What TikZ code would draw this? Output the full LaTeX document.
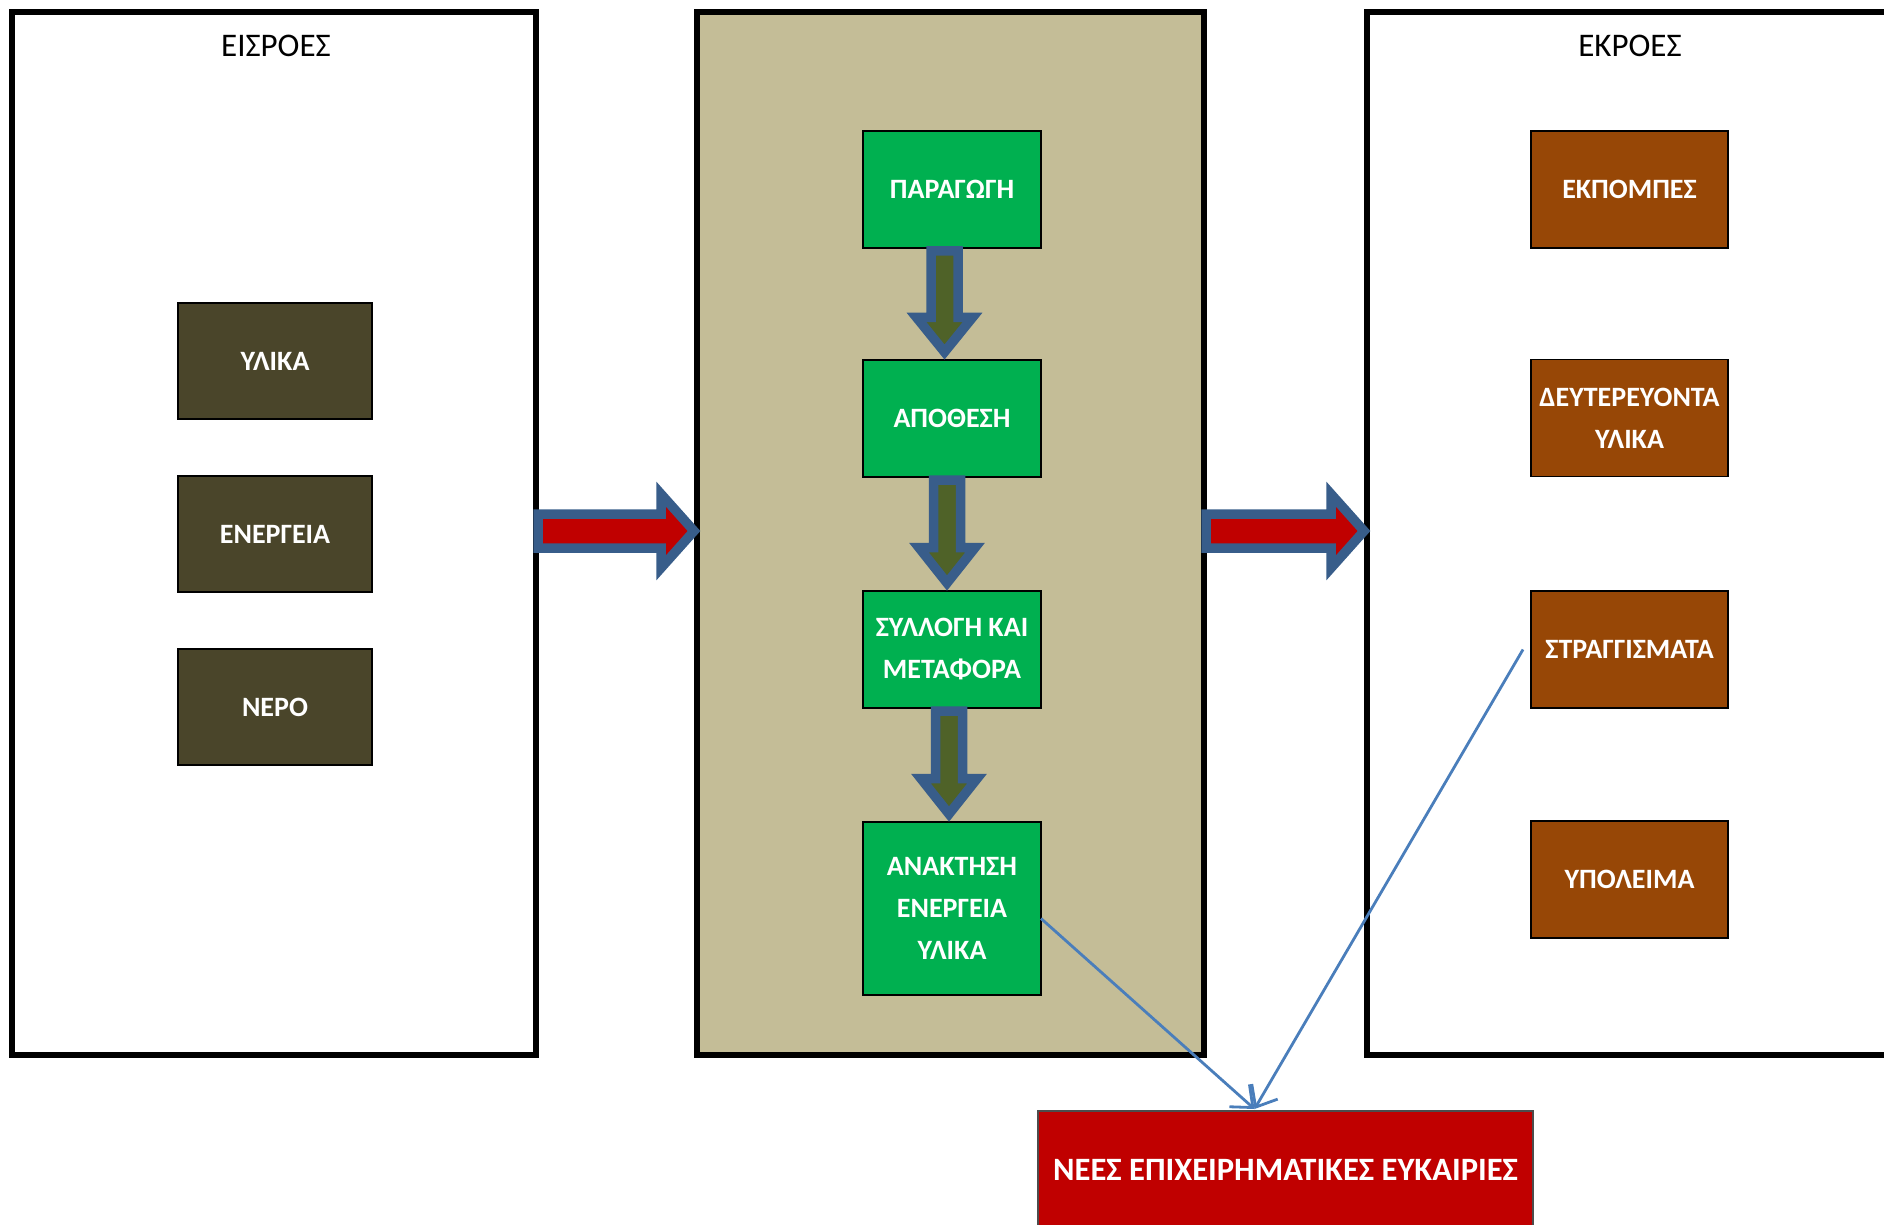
\documentclass[tikz,border=0pt]{standalone}
\usepackage{fontspec}
\setmainfont{Carlito}
\usetikzlibrary{calc,arrows.meta}

\definecolor{panelTan}{HTML}{C4BD97}
\definecolor{boxOlive}{HTML}{4A452A}
\definecolor{boxGreen}{HTML}{00B050}
\definecolor{boxBrown}{HTML}{974706}
\definecolor{boxRed}{HTML}{C00000}
\definecolor{arrowBlue}{HTML}{385D8A}
\definecolor{arrowOlive}{HTML}{4F6228}
\definecolor{lineBlue}{HTML}{4A7EBB}

% vertical block arrow between two stacked boxes (#3 = horizontal shift)
\newcommand{\blockdown}[3]{%
  \draw[downarrow]
    ($(#1.south)+(#3-13.5,3)$) -- ($(#1.south)+(#3+13.5,3)$)
    -- ($(#1.south)!0.62!(#2.north)+(#3+13.5,0)$)
    -- ($(#1.south)!0.62!(#2.north)+(#3+28,0)$)
    -- ($(#2.north)+(#3,-8)$)
    -- ($(#1.south)!0.62!(#2.north)+(#3-28,0)$)
    -- ($(#1.south)!0.62!(#2.north)+(#3-13.5,0)$) -- cycle;}

% horizontal block arrow from one panel to the next
\newcommand{\blockright}[2]{%
  \draw[rightarrow]
    ($(#1.east)+(2,-19.5)$) -- ($(#2.west)+(-36,-19.5)$)
    -- ($(#2.west)+(-36,-39.5)$)
    -- ($(#2.west)+(-3,-2.5)$)
    -- ($(#2.west)+(-36,34.5)$)
    -- ($(#2.west)+(-36,14.5)$)
    -- ($(#1.east)+(2,14.5)$) -- cycle;}

\begin{document}
\begin{tikzpicture}[x=0.5pt,y=-0.5pt,
  panel/.style={draw=black,line width=3pt,inner sep=0pt,outer sep=0pt,
    minimum height=521.5pt},
  title/.style={inner sep=0pt,font=\fontsize{16.5}{20}\selectfont},
  boxtext/.style={inner sep=0pt,outer sep=0pt,text=white,align=center,
    font=\fontsize{14}{21}\bfseries\selectfont},
  inbox/.style={boxtext,fill=boxOlive,draw=black,line width=1pt,
    minimum width=97pt,minimum height=58pt},
  procbox/.style={boxtext,fill=boxGreen,draw=black,line width=0.8pt,
    minimum width=89pt,minimum height=58.5pt},
  outbox/.style={boxtext,fill=boxBrown,draw=black,line width=0.8pt,
    minimum width=98.5pt,minimum height=58.5pt},
  newbox/.style={boxtext,fill=boxRed,draw=black!70,line width=0.6pt,
    minimum width=247.5pt,minimum height=59pt,
    font=\fontsize{16.3}{20}\bfseries\selectfont},
  downarrow/.style={draw=arrowBlue,fill=arrowOlive,line width=4.75pt,
    line join=miter},
  rightarrow/.style={draw=arrowBlue,fill=boxRed,line width=4.75pt,
    line join=miter},
  conn/.style={draw=lineBlue,line width=1.4pt,
    -{Straight Barb[length=9pt,width=15pt,line width=1.4pt]}}]

\useasboundingbox (0,0) rectangle (1884,1225);
\clip (0,0) rectangle (1884,1225);

% the three panels
\node[panel,minimum width=262pt] (in) at (274,533.5) {};
\node[panel,fill=panelTan,minimum width=253.5pt] (mid) at (950.5,533.5) {};
\node[panel,minimum width=266.5pt] (out) at (1633.5,533.5) {};

\node[title] (tin) at (276,46) {ΕΙΣΡΟΕΣ};
\node[title] (tout) at (1630,46) {ΕΚΡΟΕΣ};

% inputs
\node[inbox] (ylika) at (275,361) {ΥΛΙΚΑ};
\node[inbox] (energeia) at (275,534) {ΕΝΕΡΓΕΙΑ};
\node[inbox] (nero) at (275,707) {ΝΕΡΟ};

% process steps
\node[procbox] (paragogi) at (952,189.5) {ΠΑΡΑΓΩΓΗ};
\node[procbox] (apothesi) at (952,418.5) {ΑΠΟΘΕΣΗ};
\node[procbox] (syllogi) at (952,649.5) {ΣΥΛΛΟΓΗ ΚΑΙ\\ΜΕΤΑΦΟΡΑ};
\node[procbox,minimum height=86.5pt] (anaktisi) at (952,908.5)
  {ΑΝΑΚΤΗΣΗ\\ΕΝΕΡΓΕΙΑ\\ΥΛΙΚΑ};

% outputs
\node[outbox] (ekpompes) at (1629.5,189.5) {ΕΚΠΟΜΠΕΣ};
\node[outbox] (deftereyonta) at (1629.5,418) {ΔΕΥΤΕΡΕΥΟΝΤΑ\\ΥΛΙΚΑ};
\node[outbox] (straggismata) at (1629.5,649.5) {ΣΤΡΑΓΓΙΣΜΑΤΑ};
\node[outbox] (ypoleima) at (1629.5,879.5) {ΥΠΟΛΕΙΜΑ};

% opportunities
\node[newbox] (nees) at (1285.5,1170) {ΝΕΕΣ ΕΠΙΧΕΙΡΗΜΑΤΙΚΕΣ ΕΥΚΑΙΡΙΕΣ};

% flow between the process steps
\blockdown{paragogi}{apothesi}{-7.5}
\blockdown{apothesi}{syllogi}{-5}
\blockdown{syllogi}{anaktisi}{-3}

% flow between the panels
\blockright{in}{mid}
\blockright{mid}{out}

% links to the opportunities
\coordinate (fromrec) at ($(anaktisi.east)+(0,10)$);
\coordinate (fromdrain) at ($(straggismata.west)+(-8,0)$);
\coordinate (tip) at ($(nees.north)+(-31,-2)$);
\draw[conn] (fromrec) -- (tip);
\draw[conn] (fromdrain) -- (tip);
\end{tikzpicture}
\end{document}
